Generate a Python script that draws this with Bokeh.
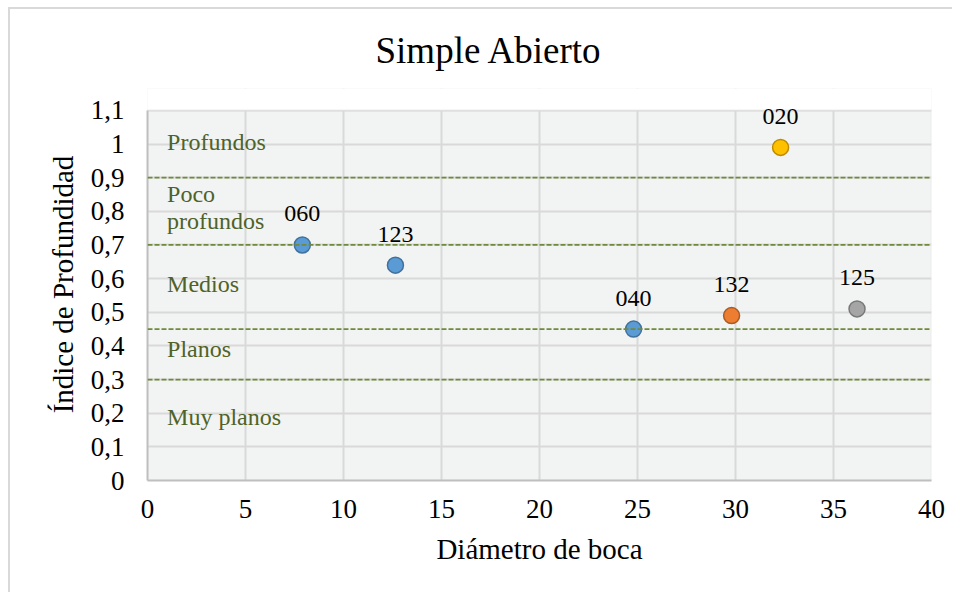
from bokeh.plotting import figure
from bokeh.models import ColumnDataSource, Span, FixedTicker, LabelSet, BoxAnnotation
from bokeh.core.properties import value
from bokeh.embed import file_html
from bokeh.resources import INLINE

# Data
codes = ["060", "123", "040", "132", "125", "020"]
diametro = [7.9, 12.65, 24.8, 29.8, 36.2, 32.3]
indice = [0.70, 0.64, 0.45, 0.49, 0.51, 0.99]
fill_colors = ["#5b9bd5", "#5b9bd5", "#5b9bd5", "#ed7d31", "#a5a5a5", "#ffc000"]
line_colors = ["#41719c", "#41719c", "#41719c", "#ae5a21", "#787878", "#bc8c00"]

thresholds = [0.9, 0.7, 0.45, 0.3]
band_labels = ["Profundos", "Poco", "profundos", "Medios", "Planos", "Muy planos"]
band_label_y = [1.005, 0.85, 0.77, 0.585, 0.39, 0.19]
band_label_x = [1.0] * len(band_labels)

y_ticks = [0, 0.1, 0.2, 0.3, 0.4, 0.5, 0.6, 0.7, 0.8, 0.9, 1.0, 1.1]
y_tick_labels = ["0", "0,1", "0,2", "0,3", "0,4", "0,5", "0,6", "0,7", "0,8", "0,9", "1", "1,1"]
x_ticks = [0, 5, 10, 15, 20, 25, 30, 35, 40]

X_MIN, X_MAX = x_ticks[0], x_ticks[-1]
Y_MIN, Y_MAX = y_ticks[0], y_ticks[-1]
HEADROOM = 0.065  # extra frame space so the top point label is not clipped

FONT = "Liberation Serif"

p = figure(width=944, height=585, x_range=(X_MIN, X_MAX), y_range=(Y_MIN, Y_MAX + HEADROOM),
           output_backend="svg", toolbar_location=None,
           min_border_left=137, min_border_right=23, min_border_top=77, min_border_bottom=114)

p.title.text = "Simple Abierto"
p.title.align = "left"
p.title.text_font = FONT
p.title.text_font_size = "37px"
p.title.text_font_style = "normal"
p.title.text_color = "#000000"
p.title.offset = 228
p.title.standoff = 36

p.background_fill_color = "#f2f3f3"
p.border_fill_color = "white"
p.outline_line_color = None

p.xgrid.ticker = FixedTicker(ticks=x_ticks)
p.ygrid.ticker = FixedTicker(ticks=y_ticks)
p.grid.grid_line_color = "#d9d9d9"
p.grid.grid_line_width = 2

# hide the headroom strip above the plot area
p.add_layout(BoxAnnotation(bottom=Y_MAX, fill_color="white", fill_alpha=1.0,
                           line_color=None, level="underlay"))
# plot-area border
p.add_layout(BoxAnnotation(left=X_MIN, right=X_MAX, bottom=Y_MIN, top=Y_MAX,
                           fill_alpha=0, line_color="#d9d9d9", line_width=2,
                           level="underlay"))

p.xaxis.ticker = FixedTicker(ticks=x_ticks)
p.yaxis.ticker = FixedTicker(ticks=y_ticks)
p.yaxis.bounds = (Y_MIN, Y_MAX)
p.yaxis.major_label_overrides = {t: l for t, l in zip(y_ticks, y_tick_labels)}

for ax in (p.xaxis[0], p.yaxis[0]):
    ax.axis_line_color = "#bfbfbf"
    ax.axis_line_width = 2
    ax.major_tick_line_color = None
    ax.minor_tick_line_color = None
    ax.major_tick_out = 0
    ax.major_tick_in = 0
    ax.major_label_text_font = FONT
    ax.major_label_text_font_size = "27px"
    ax.major_label_text_color = "#000000"
    ax.axis_label_text_font = FONT
    ax.axis_label_text_font_size = "29px"
    ax.axis_label_text_font_style = "normal"
    ax.axis_label_text_color = "#000000"

p.xaxis.axis_label = "Diámetro de boca"
p.yaxis.axis_label = "Índice de Profundidad"
p.xaxis.major_label_standoff = 19
p.xaxis.axis_label_standoff = 12
p.yaxis.major_label_standoff = 23
p.yaxis.axis_label_standoff = 9

for t in thresholds:
    p.add_layout(Span(location=t, dimension="width", line_color="#6f8a3c",
                      line_width=1.8, line_dash="5 2"))

band_src = ColumnDataSource(dict(x=band_label_x, y=band_label_y, t=band_labels))
p.text(x="x", y="y", text="t", source=band_src, text_font=value(FONT),
       text_font_size="24px", text_color="#4f6228", text_align="left",
       text_baseline="middle")

src = ColumnDataSource(dict(x=diametro, y=indice, code=codes,
                            fc=fill_colors, lc=line_colors))
p.scatter(x="x", y="y", source=src, size=16, fill_color="fc", line_color="lc",
          line_width=1.5)
labels = LabelSet(x="x", y="y", text="code", source=src, text_font=value(FONT),
                  text_font_size="24px", text_color="#000000", text_align="center",
                  text_baseline="middle", y_offset=31, level="overlay")
p.add_layout(labels)

p.styles = {"margin-left": "8px", "margin-top": "7px",
            "border-left": "2px solid #d9d9d9", "border-top": "2px solid #d9d9d9"}

open("out.html", "w").write(file_html(p, INLINE))
